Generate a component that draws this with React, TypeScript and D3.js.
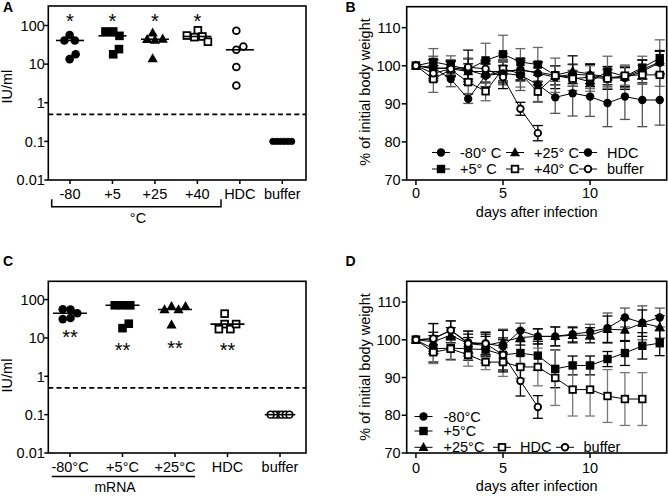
import React from "react";
import * as d3 from "d3";

// ---------- DATA ----------
const aCategories = ["-80", "+5", "+25", "+40", "HDC", "buffer"];
const aValues: number[][] = [
  [57, 41, 41, 13.5, 18],
  [70, 54, 70, 18, 24.5],
  [65, 42, 44, 45, 14],
  [75, 52, 50, 55, 38],
  [73, 23.5, 28.5, 8.4, 2.8],
  [0.1, 0.1, 0.1, 0.1, 0.1, 0.1],
];
const aMarkers = ["circle", "square", "triangle", "squareOpen", "circleOpen", "dot"];
const aStars = ["*", "*", "*", "*", "", ""];
const aStarLevels = [170, 170, 170, 170, 0, 0];

const cCategories = ["-80°C", "+5°C", "+25°C", "HDC", "buffer"];
const cValues: number[][] = [
  [55, 44, 33, 31, 56],
  [71, 71, 71, 18, 23.5],
  [67, 55, 55, 67, 22],
  [43, 23, 17, 17, 23],
  [0.1, 0.1, 0.1, 0.1, 0.1, 0.1],
];
const cMarkers = ["circle", "square", "triangle", "squareOpen", "dotOpen"];
const cStars = ["**", "**", "**", "**", ""];
const cStarLevels = [13.5, 6.2, 7.0, 6.3, 0];

const detectionLimit = 0.5;
const logTicks = [0.01, 0.1, 1, 10, 100];
const logTickLabels = ["0.01", "0.1", "1", "10", "100"];

const days = [0, 1, 2, 3, 4, 5, 6, 7, 8, 9, 10, 11, 12, 13, 14];
const weightTicks = [70, 80, 90, 100, 110];
const dayTicks = [0, 5, 10];

// Panel B series
const bNames = ["-80° C", "+5° C", "+25° C", "+40° C", "HDC", "buffer"];
const bMarkers = ["circle", "square", "triangle", "squareOpen", "circle", "circleOpen"];
const bMeans: number[][] = [
  [100, 99.2, 99.5, 98.8, 97.5, 98.5, 99.0, 98.0, 97.0, 97.8, 97.5, 96.8, 96.8, 98.5, 100.8],
  [100, 101.0, 100.1, 99.0, 101.4, 103.0, 101.0, 100.3, 97.5, 97.0, 95.8, 98.5, 97.2, 99.5, 102.0],
  [100, 99.5, 99.2, 98.5, 98.5, 98.5, 98.8, 98.3, 97.5, 98.6, 97.8, 97.0, 97.0, 99.0, 101.0],
  [100, 96.5, 99.0, 95.7, 93.3, 99.2, 97.9, 93.2, 97.4, 96.6, 97.0, 96.6, 97.4, 97.6, 97.6],
  [100, 99.5, 96.5, 91.3, 97.4, 98.0, 97.5, 95.1, 91.7, 92.8, 91.9, 90.2, 91.9, 91.0, 91.0],
  [100, 98.0, 99.2, 99.6, 99.2, 97.0, 88.7, 82.3],
];
const bSDs: number[][] = [
  [0, 2.5, 2, 3, 3, 3, 3, 3, 3, 2.5, 3, 3, 3, 3, 3],
  [0, 3.5, 2.5, 3, 4.5, 5, 3.5, 4.5, 4.5, 3.5, 2.5, 4, 3, 3, 4.8],
  [0, 2, 2, 2, 3, 2.5, 2.5, 2.5, 2.5, 4, 2.5, 2, 2.5, 2.5, 3],
  [0, 3.5, 2, 3, 2.5, 4, 3.5, 2.8, 2.5, 2, 3, 2.5, 2.5, 2.5, 3],
  [0, 3, 2, 1.2, 3, 3, 4, 4.5, 4.2, 6, 5.2, 6.2, 6, 7, 6.6],
  [0, 2, 2, 4.5, 2, 3, 1.7, 2],
];

// Panel D series
const dNames = ["-80°C", "+5°C", "+25°C", "HDC", "buffer"];
const dMarkers = ["circle", "square", "triangle", "squareOpen", "circleOpen"];
const dMeans: number[][] = [
  [100, 100.3, 102.5, 99.3, 99.0, 98.3, 102.4, 100.9, 100.9, 101.5, 102.1, 103.1, 105.9, 104.5, 105.9],
  [100, 97.6, 97.8, 97.6, 97.4, 96.0, 96.5, 95.8, 92.3, 93.2, 93.2, 94.9, 96.5, 98.4, 99.1],
  [100, 99.5, 101.2, 99.0, 98.5, 99.5, 100.6, 100.9, 100.9, 101.2, 101.2, 102.8, 102.6, 104.4, 103.4],
  [100, 96.7, 97.6, 96.0, 94.1, 94.1, 92.8, 92.8, 89.9, 86.8, 86.8, 85.1, 84.3, 84.3],
  [100, 100.3, 102.5, 99.0, 99.0, 96.0, 89.1, 82.2],
];
const dSDs: number[][] = [
  [0, 4, 2.5, 3, 3, 4.5, 2, 2, 2.5, 2, 2, 4, 2.5, 4.5, 2.5],
  [0, 3.5, 3, 3, 3.5, 4, 3, 3.8, 5, 2.5, 2.5, 2, 3.3, 3.5, 3.3],
  [0, 2.5, 2, 2.5, 3, 3, 2, 2, 2.5, 2, 2, 3.5, 3, 3.5, 3],
  [0, 3, 3, 3, 2, 3.8, 3, 5, 7.3, 7, 7, 7, 7, 7],
  [0, 4, 2.5, 3.3, 3, 4.5, 4, 3],
];

// ---------- STYLE ----------
const FONT = "'Liberation Sans', Arial, Helvetica, sans-serif";
const FS = 14.5;

function Marker({ type, x, y, s = 8.6 }: { type: string; x: number; y: number; s?: number }) {
  const h = s / 2;
  switch (type) {
    case "circle":
      return <circle cx={x} cy={y} r={h} fill="#000" />;
    case "circleOpen":
      return <circle cx={x} cy={y} r={h - 0.9} fill="#fff" stroke="#000" strokeWidth={1.8} />;
    case "dot":
      return <circle cx={x} cy={y} r={3.2} fill="#000" stroke="#000" strokeWidth={0.8} />;
    case "dotOpen":
      return <circle cx={x} cy={y} r={3.3} fill="#fff" stroke="#000" strokeWidth={1.5} />;
    case "square":
      return <rect x={x - h} y={y - h} width={s} height={s} fill="#000" />;
    case "squareOpen":
      return (
        <rect x={x - h + 0.9} y={y - h + 0.9} width={s - 1.8} height={s - 1.8} fill="#fff" stroke="#000" strokeWidth={1.8} />
      );
    case "triangle": {
      const p = `M${x},${y - h - 1}L${x + h + 0.8},${y + h - 0.5}L${x - h - 0.8},${y + h - 0.5}Z`;
      return <path d={p} fill="#000" />;
    }
    default:
      return null;
  }
}

function beeswarm(ys: number[], s: number): number[] {
  const placed: { x: number; y: number }[] = [];
  const out: number[] = [];
  ys.forEach((y) => {
    let dx = 0;
    for (let k = 0; k < 600; k++) {
      const cand = k === 0 ? 0 : (k % 2 === 1 ? 1 : -1) * Math.ceil(k / 2) * 0.25;
      if (placed.every((p) => (p.x - cand) ** 2 + (p.y - y) ** 2 >= s * s - 1e-6)) {
        dx = cand;
        break;
      }
    }
    placed.push({ x: dx, y });
    out.push(dx);
  });
  const mid = ((d3.min(out) as number) + (d3.max(out) as number)) / 2;
  return out.map((d) => d - mid);
}

type ScatterProps = {
  cats: string[];
  values: number[][];
  markers: string[];
  stars: string[];
  starLevels: number[];
  left: number;
  right: number;
  top: number;
  bottom: number;
  yTop: number;
  xFirst: number;
  xLast: number;
  medianW: number;
  tickLabelY: number;
  ylabelY: number;
};

function ScatterPanel(p: ScatterProps) {
  const y = d3.scaleLog().domain([0.01, p.yTop]).range([p.bottom, p.top]);
  const x = d3.scalePoint<string>().domain(p.cats).range([p.xFirst, p.xLast]);
  return (
    <g>
      <rect x={p.left} y={p.top} width={p.right - p.left} height={p.bottom - p.top} fill="none" stroke="#000" strokeWidth={1.6} />
      {logTicks.map((t, i) => (
        <g key={"yt" + i}>
          <line x1={p.left - 4} x2={p.left} y1={y(t)} y2={y(t)} stroke="#000" strokeWidth={1.5} />
          <text x={p.left - 3.5} y={y(t)} dy="0.36em" textAnchor="end" fontSize={FS} fontFamily={FONT}>
            {logTickLabels[i]}
          </text>
        </g>
      ))}
      <text
        transform={`translate(12,${p.ylabelY}) rotate(-90)`}
        textAnchor="middle"
        fontSize={FS}
        fontFamily={FONT}
      >
        IU/ml
      </text>
      {p.cats.map((c) => (
        <g key={"xt" + c}>
          <line x1={x(c)} x2={x(c)} y1={p.bottom} y2={p.bottom + 4} stroke="#000" strokeWidth={1.5} />
          <text x={x(c)} y={p.tickLabelY} textAnchor="middle" fontSize={FS} fontFamily={FONT}>
            {c}
          </text>
        </g>
      ))}
      <line
        x1={p.left}
        x2={p.right}
        y1={y(detectionLimit)}
        y2={y(detectionLimit)}
        stroke="#000"
        strokeWidth={1.6}
        strokeDasharray="5,3.2"
      />
      {p.cats.map((c, gi) => {
        const vals = p.values[gi];
        const ys = vals.map((v) => y(v));
        const small = p.markers[gi].startsWith("dot");
        const offs = beeswarm(ys, small ? 3.6 : 7.6);
        const med = d3.median(vals) as number;
        const cx = x(c) as number;
        const mw = small ? p.medianW * 0.9 : p.medianW;
        return (
          <g key={"g" + c}>
            {vals.map((v, i) => (
              <Marker key={i} type={p.markers[gi]} x={cx + offs[i]} y={ys[i]} />
            ))}
            <line x1={cx - mw / 2} x2={cx + mw / 2} y1={y(med)} y2={y(med)} stroke="#000" strokeWidth={1.6} />
            {p.stars[gi] ? (
              <text x={cx} y={y(p.starLevels[gi]) + 11.5} textAnchor="middle" fontSize={20} fontFamily={FONT}>
                {p.stars[gi]}
              </text>
            ) : null}
          </g>
        );
      })}
    </g>
  );
}

type LineProps = {
  means: number[][];
  sds: number[][];
  markers: string[];
  barColors: string[];
  left: number;
  right: number;
  top: number;
  bottom: number;
  tickLabelY: number;
  titleY: number;
  ylabelY: number;
};

function LinePanel(p: LineProps) {
  const x = d3.scaleLinear().domain([-0.53, 14.4]).range([p.left, p.right]);
  const y = d3.scaleLinear().domain([70, 115.5]).range([p.bottom, p.top]);
  const line = d3
    .line<number>()
    .x((_, i) => x(days[i]))
    .y((d) => y(d));
  return (
    <g>
      {p.means.map((ser, si) =>
        ser.map((m, i) => {
          const sd = p.sds[si][i];
          if (!sd) return null;
          const cx = x(days[i]);
          const col = p.barColors[si];
          return (
            <g key={`e${si}-${i}`} stroke={col} strokeWidth={1.3}>
              <line x1={cx} x2={cx} y1={y(m - sd)} y2={y(m + sd)} />
              <line x1={cx - 5} x2={cx + 5} y1={y(m - sd)} y2={y(m - sd)} />
              <line x1={cx - 5} x2={cx + 5} y1={y(m + sd)} y2={y(m + sd)} />
            </g>
          );
        })
      )}
      {p.means.map((ser, si) => (
        <path key={"l" + si} d={line(ser) as string} fill="none" stroke="#000" strokeWidth={1} />
      ))}
      {p.means.map((ser, si) =>
        ser.map((m, i) => <Marker key={`m${si}-${i}`} type={p.markers[si]} x={x(days[i])} y={y(m)} s={8.4} />)
      )}
      <rect x={p.left} y={p.top} width={p.right - p.left} height={p.bottom - p.top} fill="none" stroke="#000" strokeWidth={1.6} />
      {weightTicks.map((t) => (
        <g key={"yt" + t}>
          <line x1={p.left - 5} x2={p.left} y1={y(t)} y2={y(t)} stroke="#000" strokeWidth={1.5} />
          <text x={p.left - 6} y={y(t)} dy="0.36em" textAnchor="end" fontSize={FS} fontFamily={FONT}>
            {t}
          </text>
        </g>
      ))}
      {dayTicks.map((t) => (
        <g key={"xt" + t}>
          <line x1={x(t)} x2={x(t)} y1={p.bottom} y2={p.bottom + 5} stroke="#000" strokeWidth={1.5} />
          <text x={x(t)} y={p.tickLabelY} textAnchor="middle" fontSize={FS} fontFamily={FONT}>
            {t}
          </text>
        </g>
      ))}
      <text x={(p.left + p.right) / 2} y={p.titleY} textAnchor="middle" fontSize={FS} fontFamily={FONT}>
        days after infection
      </text>
      <text
        transform={`translate(370,${p.ylabelY}) rotate(-90)`}
        textAnchor="middle"
        fontSize={FS}
        fontFamily={FONT}
      >
        % of initial body weight
      </text>
    </g>
  );
}

function LegendItem({ type, x, y, label, tx }: { type: string; x: number; y: number; label: string; tx: number }) {
  return (
    <g>
      <line x1={x - 9} x2={x + 9} y1={y} y2={y} stroke="#000" strokeWidth={1} />
      <Marker type={type} x={x} y={y} s={8.4} />
      <text x={tx} y={y + 5} fontSize={FS} fontFamily={FONT}>
        {label}
      </text>
    </g>
  );
}

export default function App() {
  const bCols = [441, 515, 588];
  const bText = [460, 534, 607];
  const bRows = [152.5, 169];
  const bOrder = [
    [0, 0, 0],
    [2, 0, 1],
    [4, 0, 2],
    [1, 1, 0],
    [3, 1, 1],
    [5, 1, 2],
  ];
  return (
    <svg width={668} height={496} style={{ position: "absolute", left: 0, top: 0, background: "#fff" }}>
      <rect x={0} y={0} width={668} height={496} fill="#fff" />
      <text x={3} y={11.5} fontSize={14} fontWeight="bold" fontFamily={FONT}>A</text>
      <text x={345.5} y={11.5} fontSize={14} fontWeight="bold" fontFamily={FONT}>B</text>
      <text x={3} y={266} fontSize={14} fontWeight="bold" fontFamily={FONT}>C</text>
      <text x={345.5} y={266} fontSize={14} fontWeight="bold" fontFamily={FONT}>D</text>

      <ScatterPanel
        cats={aCategories}
        values={aValues}
        markers={aMarkers}
        stars={aStars}
        starLevels={aStarLevels}
        left={48.3}
        right={306}
        top={6}
        bottom={180}
        yTop={320}
        xFirst={70}
        xLast={282.3}
        medianW={28}
        tickLabelY={199}
        ylabelY={86.7}
      />
      <path d="M51.7,199.3V206.7H221V199.3" fill="none" stroke="#000" strokeWidth={1.5} />
      <text x={138} y={223} textAnchor="middle" fontSize={FS} fontFamily={FONT}>°C</text>

      <ScatterPanel
        cats={cCategories}
        values={cValues}
        markers={cMarkers}
        stars={cStars}
        starLevels={cStarLevels}
        left={48.3}
        right={306}
        top={281.3}
        bottom={453}
        yTop={300}
        xFirst={70}
        xLast={280}
        medianW={34}
        tickLabelY={472}
        ylabelY={375.5}
      />
      <line x1={51.7} x2={195} y1={476.5} y2={476.5} stroke="#000" strokeWidth={1.5} />
      <text x={115} y={491.5} textAnchor="middle" fontSize={14} fontFamily={FONT}>mRNA</text>

      <LinePanel
        means={bMeans}
        sds={bSDs}
        markers={bMarkers}
        barColors={["#000", "#666", "#000", "#666", "#555", "#000"]}
        left={406.7}
        right={666.7}
        top={6.7}
        bottom={180}
        tickLabelY={198}
        titleY={217}
        ylabelY={92}
      />
      {bOrder.map(([si, r, c]) => (
        <LegendItem key={"bl" + si} type={bMarkers[si]} x={bCols[c]} y={bRows[r]} label={bNames[si]} tx={bText[c]} />
      ))}

      <LinePanel
        means={dMeans}
        sds={dSDs}
        markers={dMarkers}
        barColors={["#555", "#000", "#000", "#777", "#000"]}
        left={406.7}
        right={666.7}
        top={281.3}
        bottom={453}
        tickLabelY={473}
        titleY={491}
        ylabelY={367}
      />
      <LegendItem type={dMarkers[0]} x={423.5} y={416.5} label={dNames[0]} tx={443.5} />
      <LegendItem type={dMarkers[1]} x={423.5} y={431} label={dNames[1]} tx={443.5} />
      <LegendItem type={dMarkers[2]} x={423.5} y={447.3} label={dNames[2]} tx={443.5} />
      <LegendItem type={dMarkers[3]} x={502} y={447.3} label={dNames[3]} tx={520} />
      <LegendItem type={dMarkers[4]} x={565} y={447.3} label={dNames[4]} tx={583.5} />
    </svg>
  );
}
